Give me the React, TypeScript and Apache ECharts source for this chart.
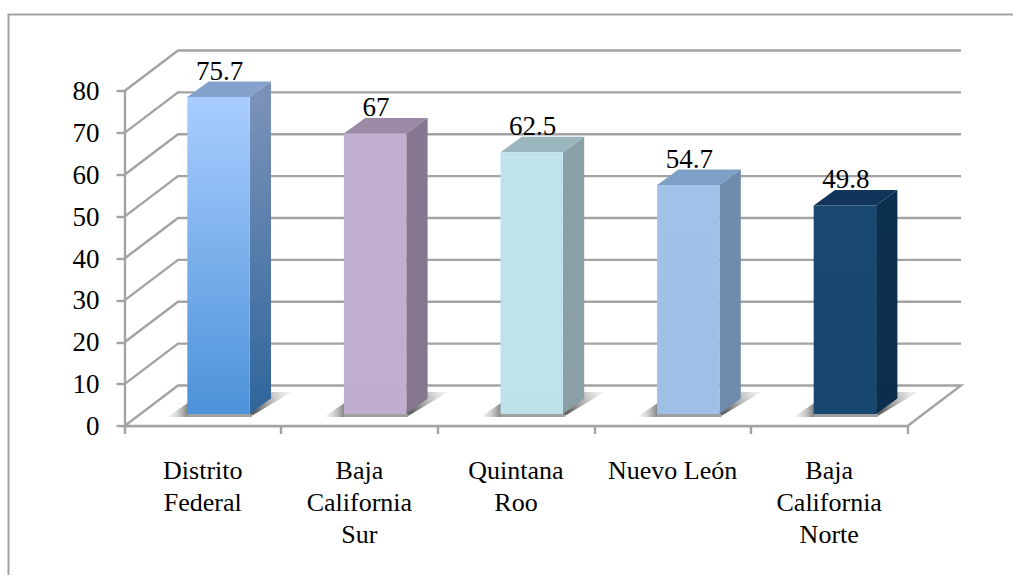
import React, { useEffect, useRef } from "react";
import * as echarts from "echarts";

const categories = ["Distrito\nFederal", "Baja\nCalifornia\nSur", "Quintana\nRoo", "Nuevo León", "Baja\nCalifornia\nNorte"];
const values = [75.7, 67, 62.5, 54.7, 49.8];
const valueLabels = ["75.7", "67", "62.5", "54.7", "49.8"];
const wallTicks = [10, 20, 30, 40, 50, 60, 70, 80];

const frontTop = ["#A9CDFF", "#C1AFD2", "#C0E3EB", "#A0C2E8", "#18476F"];
const frontBottom = ["#4C92DA", "#C0AED0", "#BFE1E9", "#9EC0E6", "#17466E"];
const sideTop = ["#7B92B8", "#86768F", "#8BA1A8", "#6F8CAD", "#0B2F4E"];
const sideBottom = ["#2F659B", "#85758D", "#8A9FA6", "#6E8BAC", "#0B2E4C"];
const topFace = ["#84A2CB", "#9A8AA5", "#9CB6C0", "#7FA0C6", "#10345A"];

const FONT = "'Liberation Serif', serif";
const GRAY = "#A3A3A3";
const LINE_W = 2.4;
const WALL_DX = 53.5;
const WALL_DY = -40.5;
const BAR_W = 62.4;
const BAR_DX = 21.3;
const BAR_DY = -15.5;
const BAR_SHIFT_X = 15.7;
const BAR_SHIFT_Y = -12;

function gradient(x0: number, y0: number, x1: number, y1: number, c0: string, c1: string) {
  return new echarts.graphic.LinearGradient(x0, y0, x1, y1, [
    { offset: 0, color: c0 },
    { offset: 1, color: c1 },
  ], true);
}

function renderWall(params: any, api: any) {
  const cs = params.coordSys;
  const y = api.coord([0, api.value(1)])[1];
  return {
    type: "polyline",
    shape: { points: [[cs.x, y], [cs.x + WALL_DX, y + WALL_DY], [cs.x + cs.width + WALL_DX, y + WALL_DY]] },
    style: { fill: "none", stroke: GRAY, lineWidth: LINE_W },
    silent: true,
  };
}

function renderFloor(params: any, api: any) {
  const cs = params.coordSys;
  const y = api.coord([0, api.value(1)])[1];
  return {
    type: "polygon",
    shape: { points: [[cs.x, y], [cs.x + cs.width, y], [cs.x + cs.width + WALL_DX, y + WALL_DY], [cs.x + WALL_DX, y + WALL_DY]] },
    style: { fill: "#fff", stroke: GRAY, lineWidth: LINE_W },
    silent: true,
  };
}

function renderBar(params: any, api: any) {
  const i = params.dataIndex;
  const base = api.coord([api.value(0), 0]);
  const top = api.coord([api.value(0), api.value(1)]);
  const l = base[0] + BAR_SHIFT_X - BAR_W / 2;
  const r = l + BAR_W;
  const by = base[1] + BAR_SHIFT_Y;
  const ty = top[1] + BAR_SHIFT_Y;
  const children: any[] = [
    {
      type: "polygon",
      shape: { points: [[r, by + 3], [r + 42, by - 22], [r + 21, by - 22], [r, by - 4]] },
      style: { fill: gradient(r + 6, by - 2, r + 42, by - 22, "rgba(80,80,80,0.9)", "rgba(190,190,190,0.15)") },
    },
    {
      type: "polygon",
      shape: { points: [[l + 2, by + 3], [l - 20, by + 3], [l + 2, by - 12]] },
      style: { fill: gradient(l + 2, by, l - 20, by, "rgba(100,100,100,0.9)", "rgba(215,215,215,0.15)") },
    },
    { type: "rect", shape: { x: l, y: by, width: BAR_W + 2, height: 3 }, style: { fill: "#A0A0A0" } },
    {
      type: "text",
      style: {
        x: l + BAR_W / 2 + 1,
        y: ty + BAR_DY + 3,
        text: valueLabels[i],
        font: `27px ${FONT}`,
        fill: "#000",
        align: "center",
        verticalAlign: "bottom",
      },
    },
    {
      type: "polygon",
      shape: { points: [[l, ty], [r, ty], [r + BAR_DX, ty + BAR_DY], [l + BAR_DX, ty + BAR_DY]] },
      style: { fill: topFace[i] },
    },
    {
      type: "polygon",
      shape: { points: [[r, ty], [r + BAR_DX, ty + BAR_DY], [r + BAR_DX, by + BAR_DY], [r, by]] },
      style: { fill: gradient(0, ty, 0, by, sideTop[i], sideBottom[i]) },
    },
    {
      type: "rect",
      shape: { x: l, y: ty, width: BAR_W, height: by - ty },
      style: { fill: gradient(0, ty, 0, by, frontTop[i], frontBottom[i]) },
    },
  ];
  return { type: "group", children, silent: true };
}

export default function App() {
  const ref = useRef<HTMLDivElement>(null);
  useEffect(() => {
    const chart = echarts.init(ref.current!, undefined, { renderer: "svg" });
    chart.setOption({
      animation: false,
      backgroundColor: "#fff",
      graphic: [
        {
          type: "polyline",
          shape: { points: [[8.5, 575], [8.5, 14.5], [1013, 14.5]] },
          style: { fill: "none", stroke: GRAY, lineWidth: 2 },
          silent: true,
        },
      ],
      grid: { left: 124.5, right: 105.5, top: 91, bottom: 149 },
      xAxis: {
        type: "category",
        data: categories,
        axisLine: { lineStyle: { color: GRAY, width: LINE_W } },
        axisTick: { show: true, length: 8, lineStyle: { color: GRAY, width: LINE_W } },
        axisLabel: {
          interval: 0,
          color: "#000",
          fontFamily: FONT,
          fontSize: 26,
          lineHeight: 32,
          margin: 28,
          align: "center",
        },
      },
      yAxis: {
        type: "value",
        min: 0,
        max: 80,
        interval: 10,
        splitLine: { show: false },
        axisLine: { show: true, lineStyle: { color: GRAY, width: LINE_W } },
        axisTick: { show: true, length: 8, lineStyle: { color: GRAY, width: LINE_W } },
        axisLabel: { color: "#000", fontFamily: FONT, fontSize: 27, margin: 25, padding: [2, 0, 0, 0] },
      },
      series: [
        {
          type: "custom",
          z: 1,
          clip: false,
          renderItem: renderFloor,
          data: [[0, 0]],
          encode: { x: 0, y: 1 },
        },
        {
          type: "custom",
          z: 1,
          clip: false,
          renderItem: renderWall,
          data: wallTicks.map((v) => [0, v]),
          encode: { x: 0, y: 1 },
        },
        {
          type: "custom",
          z: 3,
          clip: false,
          renderItem: renderBar,
          data: values.map((v, i) => [i, v]),
          encode: { x: 0, y: 1 },
        },
      ],
    });
    return () => chart.dispose();
  }, []);
  return <div ref={ref} style={{ position: "fixed", left: 0, top: 0, width: 1013, height: 575 }} />;
}
